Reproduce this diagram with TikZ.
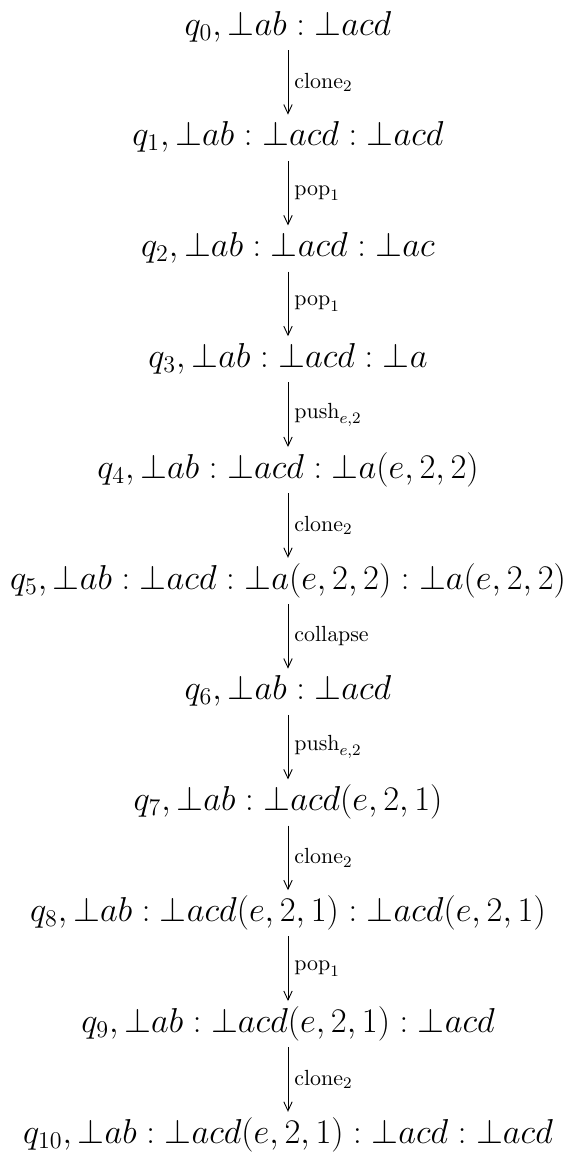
\documentclass[tikz,border=0pt]{standalone}
\usepackage{amsmath,amssymb}
\usepackage{tikz}
\usetikzlibrary{arrows.meta}

\tikzset{
  config/.style={anchor=base, inner sep=0pt, font=\fontsize{16.5}{20}\selectfont},
  move/.style={line width=0.45pt, -{Straight Barb[length=4.5pt,width=4.2pt,line width=0.45pt]}},
  movelabel/.style={midway, right=3pt, inner sep=0pt, font=\fontsize{11}{13}\selectfont}
}

\begin{document}
\begin{tikzpicture}[y=55.4pt]
    \useasboundingbox (-144pt,17.5pt) rectangle (139.5pt,-559pt);

    % Configurations of the run
    \node[config] (q0) at (0,0) {$q_0, \bot ab : \bot acd$};
    \node[config] (q1) at (0,-1) {$q_1, \bot ab : \bot acd : \bot acd$};
    \node[config] (q2) at (0,-2) {$q_2, \bot ab : \bot acd : \bot ac$};
    \node[config] (q3) at (0,-3) {$q_3, \bot ab : \bot acd : \bot a$};
    \node[config] (q4) at (0,-4) {$q_4, \bot ab : \bot acd : \bot a(e,2,2)$};
    \node[config] (q5) at (0,-5) {$q_5, \bot ab : \bot acd : \bot a(e,2,2) : \bot a(e,2,2)$};
    \node[config] (q6) at (0,-6) {$q_6, \bot ab : \bot acd$};
    \node[config] (q7) at (0,-7) {$q_7, \bot ab : \bot acd(e,2,1)$};
    \node[config] (q8) at (0,-8) {$q_8, \bot ab : \bot acd(e,2,1) : \bot acd(e,2,1)$};
    \node[config] (q9) at (0,-9) {$q_9, \bot ab : \bot acd(e,2,1) : \bot acd$};
    \node[config] (q10) at (0,-10) {$q_{10}, \bot ab : \bot acd(e,2,1) : \bot acd : \bot acd$};

    % Transitions
    \draw[move] ([yshift=-7.5pt]q0.base) -- ([yshift=15.6pt]q1.base) node[movelabel] {$\mathrm{clone}_2$};
    \draw[move] ([yshift=-7.5pt]q1.base) -- ([yshift=15.6pt]q2.base) node[movelabel] {$\mathrm{pop}_1$};
    \draw[move] ([yshift=-7.5pt]q2.base) -- ([yshift=15.6pt]q3.base) node[movelabel] {$\mathrm{pop}_1$};
    \draw[move] ([yshift=-7.5pt]q3.base) -- ([yshift=15.6pt]q4.base) node[movelabel] {$\mathrm{push}_{e,2}$};
    \draw[move] ([yshift=-7.5pt]q4.base) -- ([yshift=15.6pt]q5.base) node[movelabel] {$\mathrm{clone}_2$};
    \draw[move] ([yshift=-7.5pt]q5.base) -- ([yshift=15.6pt]q6.base) node[movelabel] {$\mathrm{collapse}$};
    \draw[move] ([yshift=-7.5pt]q6.base) -- ([yshift=15.6pt]q7.base) node[movelabel] {$\mathrm{push}_{e,2}$};
    \draw[move] ([yshift=-7.5pt]q7.base) -- ([yshift=15.6pt]q8.base) node[movelabel] {$\mathrm{clone}_2$};
    \draw[move] ([yshift=-7.5pt]q8.base) -- ([yshift=15.6pt]q9.base) node[movelabel] {$\mathrm{pop}_1$};
    \draw[move] ([yshift=-7.5pt]q9.base) -- ([yshift=15.6pt]q10.base) node[movelabel] {$\mathrm{clone}_2$};
\end{tikzpicture}
\end{document}
